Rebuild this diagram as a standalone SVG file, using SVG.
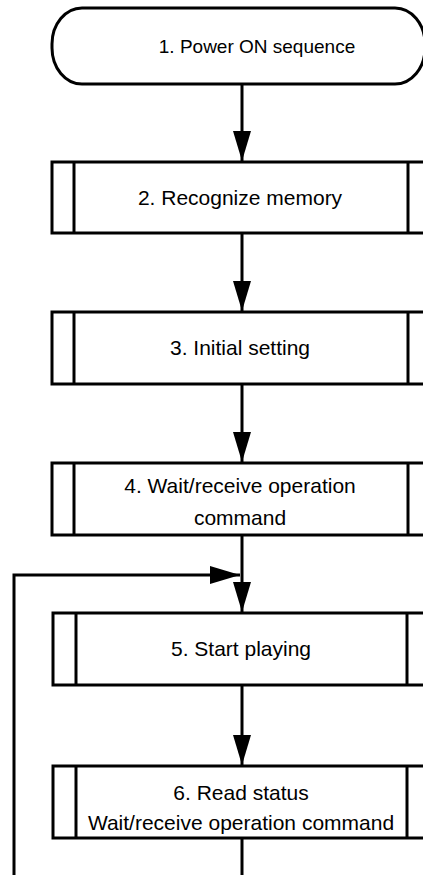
<svg xmlns="http://www.w3.org/2000/svg" width="423" height="875" viewBox="0 0 423 875">
<defs>
<style>
.box{fill:#fff;stroke:#000;stroke-width:3}
.bar{fill:none;stroke:#000;stroke-width:3}
.lbl{font-family:"Liberation Sans",Arial,sans-serif;font-size:21px;fill:#000;text-anchor:middle}
.edge{fill:none;stroke:#000;stroke-width:3}
</style>
<marker id="ah" markerUnits="userSpaceOnUse" viewBox="0 0 30 18" refX="30" refY="9" markerWidth="30" markerHeight="18" orient="auto">
<path d="M0,0 L30,9 L0,18 Z" fill="#000"/>
</marker>
</defs>
<rect width="423" height="875" fill="#fff"/>
<g id="connectors">
<line class="edge" x1="242" y1="84" x2="242" y2="161" marker-end="url(#ah)"/>
<line class="edge" x1="242" y1="233" x2="242" y2="311" marker-end="url(#ah)"/>
<line class="edge" x1="242" y1="384" x2="242" y2="462" marker-end="url(#ah)"/>
<line class="edge" x1="242" y1="535" x2="242" y2="612" marker-end="url(#ah)"/>
<line class="edge" x1="242" y1="685" x2="242" y2="765" marker-end="url(#ah)"/>
<line class="edge" x1="242" y1="838" x2="242" y2="880"/>
<polyline class="edge" points="14,880 14,575 240,575" marker-end="url(#ah)"/>
</g>
<g id="n1">
<rect class="box" x="52" y="8" width="373" height="76" rx="30" ry="36"/>
<text class="lbl" x="257" y="53" style="font-size:19px">1. Power ON sequence</text>
</g>
<g id="n2">
<rect class="box" x="52" y="162" width="378" height="71"/>
<line class="bar" x1="74" y1="162" x2="74" y2="233"/>
<line class="bar" x1="408" y1="162" x2="408" y2="233"/>
<text class="lbl" x="240" y="205">2. Recognize memory</text>
</g>
<g id="n3">
<rect class="box" x="52" y="312" width="378" height="72"/>
<line class="bar" x1="74" y1="312" x2="74" y2="384"/>
<line class="bar" x1="408" y1="312" x2="408" y2="384"/>
<text class="lbl" x="240" y="355">3. Initial setting</text>
</g>
<g id="n4">
<rect class="box" x="52" y="463" width="378" height="72"/>
<line class="bar" x1="74" y1="463" x2="74" y2="535"/>
<line class="bar" x1="408" y1="463" x2="408" y2="535"/>
<text class="lbl" x="240" y="493">4. Wait/receive operation</text>
<text class="lbl" x="240" y="525">command</text>
</g>
<g id="n5">
<rect class="box" x="53" y="613" width="377" height="72"/>
<line class="bar" x1="76" y1="613" x2="76" y2="685"/>
<line class="bar" x1="407" y1="613" x2="407" y2="685"/>
<text class="lbl" x="241" y="656">5. Start playing</text>
</g>
<g id="n6">
<rect class="box" x="53" y="766" width="377" height="72"/>
<line class="bar" x1="76" y1="766" x2="76" y2="838"/>
<line class="bar" x1="407" y1="766" x2="407" y2="838"/>
<text class="lbl" x="241" y="800">6. Read status</text>
<text class="lbl" x="241" y="830">Wait/receive operation command</text>
</g>
</svg>
